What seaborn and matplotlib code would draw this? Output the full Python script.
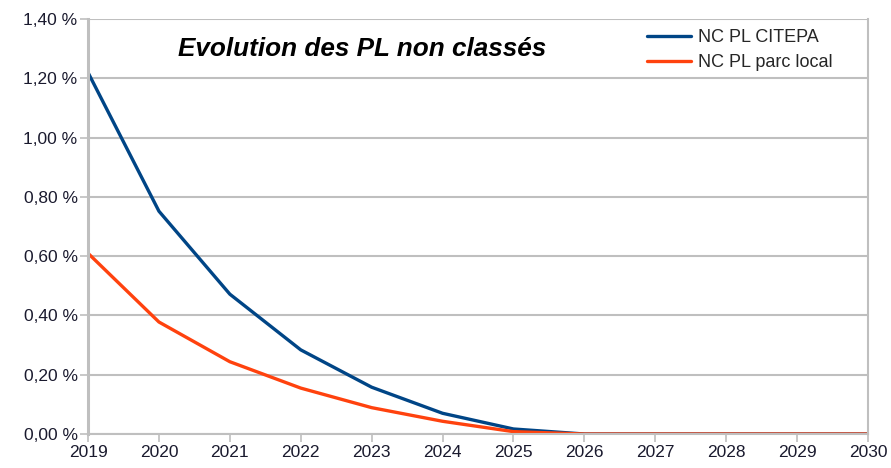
import numpy as np
import pandas as pd
import matplotlib
matplotlib.use("Agg")
import matplotlib.pyplot as plt
from matplotlib.ticker import FuncFormatter, MultipleLocator
import seaborn as sns

years = [2019, 2020, 2021, 2022, 2023, 2024, 2025, 2026, 2027, 2028, 2029, 2030]
citepa = [1.22, 0.752, 0.472, 0.284, 0.158, 0.07, 0.017, 0.0, 0.0, 0.0, 0.0, 0.0]
parc_local = [0.61, 0.378, 0.244, 0.155, 0.089, 0.043, 0.008, 0.0, 0.0, 0.0, 0.0, 0.0]
series_names = ["NC PL CITEPA", "NC PL parc local"]
colors = ["#004586", "#ff420e"]

df = pd.DataFrame({"annee": years * 2,
                   "valeur": citepa + parc_local,
                   "serie": [series_names[0]] * len(years) + [series_names[1]] * len(years)})

sns.set_style("whitegrid")
plt.rcParams["font.family"] = ["Liberation Sans", "DejaVu Sans"]

fig = plt.figure(figsize=(8.91, 4.68), dpi=100)
ax = fig.add_axes([0.0988, 0.0726, 0.8754, 0.8864])

sns.lineplot(data=df, x="annee", y="valeur", hue="serie", palette=colors,
             linewidth=2.4, ax=ax)

ax.set_xlim(2019, 2030)
ax.set_ylim(0, 1.4)
ax.set_xticks(years)
ax.yaxis.set_major_locator(MultipleLocator(0.2))
ax.yaxis.set_major_formatter(FuncFormatter(lambda v, p: f"{v:.2f} %".replace(".", ",")))
ax.set_xlabel("")
ax.set_ylabel("")

ax.grid(axis="y", color="#bfbfbf", linewidth=1.5)
ax.grid(axis="x", visible=False)
ax.spines["top"].set_visible(False)
for s in ["left", "bottom", "right"]:
    ax.spines[s].set_color("#bfbfbf")
    ax.spines[s].set_linewidth(1.5)
ax.spines["left"].set_linewidth(2.2)
ax.tick_params(axis="both", which="major", length=5.5, width=1.2, color="#bfbfbf",
               labelsize=12.5, labelcolor="#1a1a2e", left=True, bottom=True)
ax.tick_params(axis="x", pad=2.5)
ax.tick_params(axis="y", pad=2)

ax.text(0.351, 0.911, "Evolution des PL non classés", transform=ax.transAxes,
        ha="center", va="baseline", fontsize=18.8, fontweight="bold", style="italic",
        color="black")

ax.legend(loc="upper left", bbox_to_anchor=(0.708, 0.993), frameon=False,
          fontsize=13, handlelength=2.4, handletextpad=0.4, labelspacing=0.45,
          borderaxespad=0.0)

fig.savefig("out.png", dpi=100)
